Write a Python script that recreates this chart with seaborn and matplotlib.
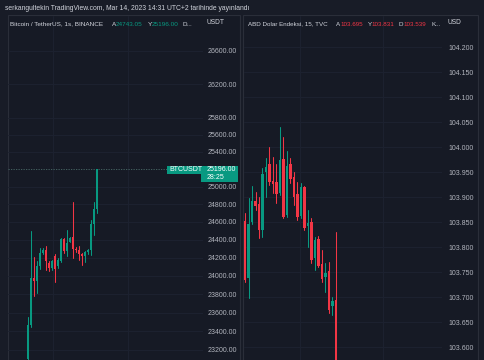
import numpy as np
import pandas as pd
import matplotlib
matplotlib.use("Agg")
import matplotlib.pyplot as plt
from matplotlib.patches import Rectangle
from matplotlib.ticker import NullLocator, FixedLocator, NullFormatter
import seaborn as sns

# ---------------- data ----------------
btc_open = [23100, 23470, 23976, 23945, 24103, 24252, 24284, 24140, 24085, 24215, 24103, 24160,
            24407, 24270, 24378, 24426, 24300, 24290, 24240, 24215, 24260, 24280, 24575, 24743]
btc_close = [23470, 23976, 23945, 24103, 24252, 24285, 24160, 24085, 24160, 24075, 24178, 24407,
             24270, 24363, 24415, 24300, 24290, 24240, 24215, 24260, 24280, 24575, 24743, 25196]
btc_high = [23550, 24500, 24210, 24160, 24308, 24310, 24325, 24160, 24180, 24240, 24200, 24420,
            24420, 24510, 24430, 24825, 24320, 24330, 24250, 24270, 24300, 24622, 24820, 25196]
btc_low = [23000, 23440, 23780, 23810, 24080, 24240, 24067, 24048, 24060, 23937, 24090, 24150,
           24250, 24222, 24370, 24196, 24260, 24180, 24120, 24150, 24240, 24233, 24455, 24700]
btc_ticks = [26600, 26200, 25800, 25600, 25400, 25000, 24800, 24600, 24400, 24200, 24000,
             23800, 23600, 23400, 23200]
btc_last = 25196.00

dxy_open = [103.853, 103.738, 103.851, 103.893, 103.887, 103.835, 103.951, 103.966, 103.932,
            103.930, 103.909, 103.977, 103.865, 103.967, 103.941, 103.906, 103.863, 103.921,
            103.843, 103.851, 103.778, 103.816, 103.767, 103.740, 103.753, 103.683, 103.695]
dxy_close = [103.735, 103.846, 103.893, 103.883, 103.835, 103.947, 103.961, 103.930, 103.927,
             103.906, 103.975, 103.861, 103.963, 103.936, 103.901, 103.861, 103.921, 103.838,
             103.849, 103.775, 103.815, 103.763, 103.737, 103.749, 103.675, 103.693, 103.550]
dxy_high = [103.868, 103.898, 103.923, 103.911, 103.901, 103.959, 103.978, 104.001, 103.981,
            103.966, 104.040, 104.021, 103.993, 103.978, 103.951, 103.931, 103.928, 103.923,
            103.875, 103.858, 103.821, 103.822, 103.795, 103.768, 103.771, 103.701, 103.831]
dxy_low = [103.730, 103.698, 103.846, 103.874, 103.818, 103.821, 103.901, 103.925, 103.908,
           103.888, 103.905, 103.858, 103.860, 103.928, 103.885, 103.855, 103.858, 103.834,
           103.801, 103.768, 103.755, 103.760, 103.730, 103.711, 103.669, 103.665, 103.539]
dxy_ticks = [104.200, 104.150, 104.100, 104.050, 104.000, 103.950, 103.900, 103.850,
             103.800, 103.750, 103.700, 103.650, 103.600]

# ---------------- style ----------------
W, H = 485, 360
OUTER = "#181c27"
PANEL = "#161a25"
BORDER = "#2a2e39"
GRID = "#1d2230"
GREEN = "#089981"
RED = "#f23645"
TXT = "#d1d4dc"
TICK = "#b2b5be"

sns.set_style("dark")
plt.rcParams["font.family"] = ["Liberation Sans", "DejaVu Sans"]

fig = plt.figure(figsize=(W / 100, H / 100), dpi=100)
fig.patch.set_facecolor(OUTER)


def fx(x):
    return x / W


def fy(y):
    return 1 - y / H


# panels
for x0, x1 in [(8, 240), (243.5, 478)]:
    fig.add_artist(Rectangle((fx(x0), fy(370)), fx(x1) - fx(x0), fy(15) - fy(370),
                             transform=fig.transFigure, facecolor=PANEL,
                             edgecolor=BORDER, lw=0.8, zorder=-5))


def candles(ax, o, h, l, c, width, minh):
    o = np.asarray(o); h = np.asarray(h); l = np.asarray(l); c = np.asarray(c)
    idx = np.arange(len(o))
    d = np.where(c >= o, "up", "down")
    wick = pd.DataFrame({
        "i": np.concatenate([idx, idx]),
        "p": np.concatenate([l, h]),
        "dir": np.concatenate([d, d]),
    })
    sns.lineplot(data=wick, x="i", y="p", units="i", estimator=None, hue="dir",
                 palette={"up": GREEN, "down": RED}, legend=False, lw=0.75, ax=ax)
    bottoms = np.minimum(o, c)
    heights = np.maximum(np.abs(c - o), minh)
    ax.bar(idx, heights, bottom=bottoms, width=width,
           color=[GREEN if k == "up" else RED for k in d], linewidth=0, zorder=3)


def style_axis(ax):
    ax.set_facecolor("none")
    for s in ax.spines.values():
        s.set_visible(False)
    ax.set_xlabel("")
    ax.set_ylabel("")
    ax.yaxis.tick_right()
    ax.yaxis.set_minor_locator(NullLocator())
    ax.xaxis.set_major_formatter(NullFormatter())
    ax.tick_params(axis="x", length=0)
    ax.grid(True, color=GRID, lw=0.7)


# ---------------- left: BTCUSDT ----------------
axL = fig.add_axes([fx(8), 0, fx(203) - fx(8), fy(16)])
candles(axL, btc_open, btc_high, btc_low, btc_close, 0.67, 8)
axL.set_yscale("log")
axL.set_ylim(23094, 27028)
axL.set_xlim(-6.667, 58.333)
style_axis(axL)
axL.yaxis.set_major_locator(FixedLocator(btc_ticks))
axL.yaxis.set_minor_locator(NullLocator())
axL.set_yticklabels([f"{t:.2f}" for t in btc_ticks])
axL.set_xticks([8.333, 33.333])
axL.tick_params(axis="y", length=0, pad=3, labelsize=5, labelcolor=TICK)
axL.axhline(btc_last, xmin=0, xmax=(167 - 8) / 195, color="#4a6b69", lw=0.6,
            ls=(0, (1.5, 1.5)), zorder=1)

# ---------------- right: DXY ----------------
axR = fig.add_axes([fx(244), 0, fx(442) - fx(244), fy(16)])
candles(axR, dxy_open, dxy_high, dxy_low, dxy_close, 0.65, 0.002)
axR.set_ylim(103.5746, 104.2626)
axR.set_xlim(-0.286, 56.29)
style_axis(axR)
axR.yaxis.set_major_locator(FixedLocator(dxy_ticks))
axR.set_yticklabels([f"{t:.3f}" for t in dxy_ticks])
axR.set_xticks([15.71, 39.43])
axR.tick_params(axis="y", length=0, pad=4.5, labelsize=5, labelcolor=TICK)

# ---------------- texts ----------------
def T(x, y, s, color=TXT, size=4.6, **kw):
    fig.text(fx(x), fy(y), s, color=color, fontsize=size, ha="left", va="center", **kw)


T(5, 8, "serkangultekin TradingView.com, Mar 14, 2023 14:31 UTC+2 tarihinde yayınlandı", size=4.9)

T(10, 24, "Bitcoin / TetherUS, 1s, BINANCE")
T(112, 24, "A")
T(116, 24, "24743.05", color=GREEN)
T(147.5, 24, "Y")
T(151.5, 24, "25196.00", color=GREEN)
T(183, 24, "D...")
T(207, 23, "USDT", size=4.8)

T(248, 24, "ABD Dolar Endeksi, 15, TVC", size=4.5)
T(335.5, 24, "A", size=4.5)
T(340, 24, "103.695", color=RED, size=4.5)
T(367.5, 24, "Y", size=4.5)
T(371.5, 24, "103.831", color=RED, size=4.5)
T(399, 24, "D", size=4.5)
T(403, 24, "103.539", color=RED, size=4.5)
T(431.5, 24, "K...", size=4.5)
T(448, 23, "USD", size=4.8)

# price label boxes
fig.add_artist(Rectangle((fx(166.7), fy(173.5)), fx(201) - fx(166.7), fy(166) - fy(173.5),
                         transform=fig.transFigure, facecolor=GREEN, lw=0, zorder=5))
fig.add_artist(Rectangle((fx(201), fy(182)), fx(238) - fx(201), fy(166) - fy(182),
                         transform=fig.transFigure, facecolor=GREEN, lw=0, zorder=5))
fig.text(fx(169), fy(169.8), "BTCUSDT", color="white", fontsize=5, ha="left", va="center", zorder=6)
fig.text(fx(207), fy(169.8), "25196.00", color="white", fontsize=5, ha="left", va="center", zorder=6)
fig.text(fx(207), fy(177.8), "28:25", color="white", fontsize=5, ha="left", va="center", zorder=6)

fig.savefig("out.png", dpi=100, facecolor=fig.get_facecolor())
